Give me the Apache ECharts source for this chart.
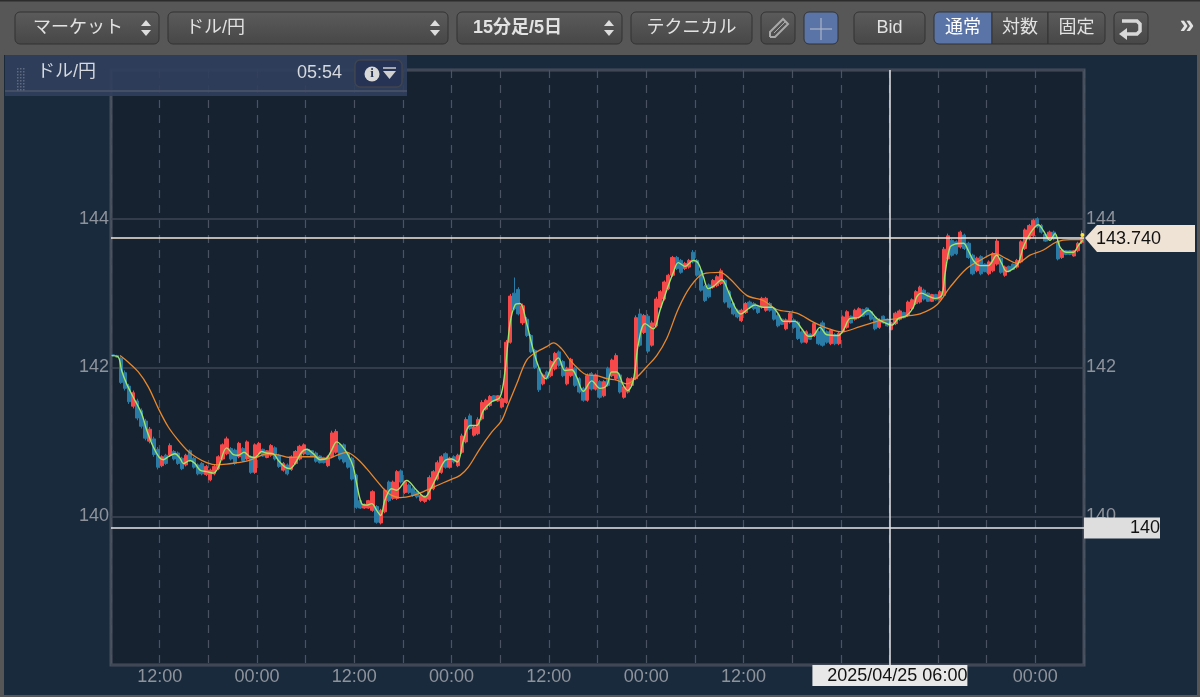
<!DOCTYPE html>
<html><head><meta charset="utf-8">
<style>html,body{margin:0;padding:0;background:#1a2a3d}#c{width:1200px;height:697px}</style>
<script src="https://cdn.jsdelivr.net/npm/echarts@6/dist/echarts.min.js"></script>
</head><body><div id="c"></div>
<script>
const highs=[142.17,142.17,142.14,141.96,141.78,141.69,141.58,141.45,141.31,141.20,
141.07,140.93,140.82,140.84,140.98,140.89,140.87,140.80,140.84,140.90,
140.80,140.71,140.73,140.69,140.64,140.69,140.82,140.98,141.07,140.93,
140.91,141.00,140.93,141.02,140.82,140.98,141.00,140.91,140.89,140.97,
140.94,140.84,140.73,140.71,140.82,140.89,140.96,140.98,140.91,140.89,
140.87,140.82,140.80,140.82,141.15,141.17,140.98,140.98,140.87,140.80,
140.57,140.22,140.17,140.22,140.35,140.15,140.10,140.37,140.48,140.48,
140.62,140.63,140.48,140.44,140.39,140.35,140.30,140.28,140.55,140.62,
140.75,140.82,140.86,140.80,140.82,140.84,141.11,141.33,141.38,141.22,
141.33,141.56,141.58,141.63,141.63,141.63,141.60,142.37,142.99,143.21,
143.08,142.86,142.68,142.45,142.25,142.01,141.92,141.96,142.10,142.21,
142.23,142.10,142.01,142.13,142.01,141.87,141.74,141.92,141.94,141.92,
141.83,141.83,142.01,142.12,142.19,141.92,141.76,141.87,141.87,142.70,
142.79,142.72,142.72,142.63,142.95,143.04,143.17,143.26,143.50,143.50,
143.46,143.42,143.46,143.58,143.46,143.33,143.11,143.13,143.19,143.24,
143.33,143.19,143.04,142.88,142.79,142.79,142.88,142.90,142.88,142.84,
142.95,142.95,142.88,142.81,142.72,142.66,142.66,142.75,142.66,142.63,
142.50,142.50,142.46,142.61,142.50,142.63,142.50,142.52,142.46,142.48,
142.70,142.77,142.70,142.79,142.81,142.79,142.81,142.77,142.70,142.66,
142.70,142.66,142.61,142.75,142.78,142.75,142.90,142.93,143.04,143.10,
143.06,143.01,142.99,142.99,143.04,143.62,143.80,143.73,143.71,143.84,
143.80,143.69,143.53,143.49,143.51,143.40,143.44,143.55,143.73,143.49,
143.37,143.37,143.40,143.46,143.71,143.87,143.93,144.00,144.02,143.93,
143.80,143.84,143.84,143.71,143.60,143.58,143.58,143.58,143.69,143.84];
const lows=[142.15,142.13,141.78,141.69,141.51,141.45,141.29,141.18,141.02,140.98,
140.80,140.63,140.66,140.69,140.80,140.75,140.69,140.62,140.67,140.73,
140.64,140.55,140.55,140.54,140.47,140.55,140.62,140.75,140.82,140.75,
140.69,140.78,140.73,140.75,140.57,140.57,140.82,140.80,140.78,140.80,
140.75,140.65,140.60,140.55,140.61,140.69,140.75,140.82,140.82,140.80,
140.72,140.71,140.71,140.66,140.78,140.84,140.75,140.71,140.64,140.48,
140.10,140.10,140.10,140.10,140.06,139.90,139.89,140.04,140.19,140.22,
140.22,140.44,140.30,140.30,140.26,140.24,140.19,140.18,140.21,140.35,
140.48,140.57,140.64,140.64,140.71,140.66,140.84,140.98,141.16,141.07,
141.09,141.29,141.42,141.47,141.54,141.54,141.45,141.51,142.32,142.77,
142.70,142.57,142.41,142.19,141.98,141.67,141.76,141.83,141.87,141.96,
142.01,141.87,141.76,141.87,141.74,141.65,141.54,141.54,141.69,141.69,
141.58,141.60,141.74,141.87,141.83,141.65,141.58,141.65,141.74,141.83,
142.28,142.45,142.19,142.28,142.54,142.79,142.90,143.04,143.22,143.31,
143.26,143.31,143.33,143.40,143.22,143.02,142.88,142.93,143.06,143.08,
143.11,142.86,142.79,142.70,142.66,142.61,142.72,142.79,142.77,142.72,
142.79,142.75,142.75,142.63,142.54,142.57,142.50,142.59,142.52,142.37,
142.32,142.32,142.37,142.41,142.30,142.28,142.32,142.30,142.30,142.30,
142.46,142.52,142.59,142.63,142.66,142.68,142.70,142.63,142.50,142.52,
142.59,142.55,142.50,142.57,142.63,142.66,142.68,142.77,142.84,142.86,
142.90,142.88,142.88,142.90,142.90,142.95,143.44,143.49,143.51,143.60,
143.58,143.46,143.24,143.28,143.24,143.28,143.24,143.28,143.37,143.26,
143.22,143.28,143.31,143.33,143.40,143.58,143.71,143.75,143.87,143.80,
143.69,143.73,143.71,143.44,143.46,143.51,143.51,143.49,143.55,143.66];
const opens=[142.17,142.16,142.12,141.93,141.75,141.48,141.55,141.42,141.28,141.01,
141.04,140.90,140.68,140.82,140.82,140.87,140.85,140.78,140.69,140.88,
140.78,140.69,140.71,140.56,140.49,140.57,140.64,140.77,140.84,140.91,
140.89,140.80,140.91,140.77,140.80,140.59,140.84,140.90,140.79,140.82,
140.92,140.82,140.62,140.69,140.63,140.71,140.77,140.84,140.90,140.88,
140.85,140.81,140.79,140.68,140.80,140.86,140.96,140.96,140.85,140.78,
140.55,140.21,140.11,140.11,140.08,140.13,139.91,140.06,140.46,140.24,
140.24,140.61,140.32,140.42,140.37,140.33,140.21,140.20,140.23,140.37,
140.50,140.59,140.84,140.66,140.80,140.68,140.86,141.00,141.35,141.09,
141.11,141.31,141.44,141.49,141.62,141.55,141.47,141.53,142.34,143.00,
143.05,142.60,142.65,142.43,142.23,141.99,141.78,141.94,141.89,141.98,
142.21,142.08,141.78,141.89,141.99,141.85,141.72,141.56,141.92,141.71,
141.81,141.62,141.99,141.89,141.85,141.90,141.60,141.67,141.76,141.85,
142.72,142.47,142.69,142.30,142.56,142.81,142.92,143.06,143.24,143.48,
143.44,143.33,143.35,143.55,143.44,143.30,143.09,143.11,143.08,143.10,
143.13,143.17,143.02,142.86,142.77,142.63,142.74,142.88,142.86,142.82,
142.81,142.77,142.86,142.79,142.70,142.65,142.52,142.61,142.64,142.61,
142.48,142.34,142.45,142.43,142.48,142.60,142.48,142.32,142.44,142.32,
142.48,142.54,142.69,142.65,142.68,142.78,142.80,142.75,142.68,142.54,
142.69,142.65,142.51,142.59,142.65,142.74,142.70,142.79,142.86,142.88,
143.04,143.00,142.89,142.98,142.92,142.97,143.46,143.71,143.69,143.62,
143.78,143.67,143.51,143.30,143.49,143.39,143.26,143.30,143.39,143.47,
143.24,143.36,143.39,143.35,143.42,143.60,143.73,143.77,144.00,143.91,
143.79,143.75,143.82,143.69,143.48,143.57,143.57,143.50,143.57,143.68];
const closes=[142.16,142.14,141.80,141.72,141.54,141.66,141.32,141.21,141.05,141.17,
140.83,140.66,140.80,140.71,140.95,140.77,140.71,140.64,140.82,140.75,
140.66,140.57,140.57,140.67,140.62,140.67,140.80,140.96,141.04,140.77,
140.71,140.98,140.75,141.00,140.59,140.96,140.98,140.81,140.88,140.95,
140.77,140.67,140.71,140.57,140.80,140.87,140.94,140.96,140.83,140.81,
140.74,140.72,140.72,140.80,141.12,141.14,140.77,140.73,140.66,140.50,
140.12,140.11,140.16,140.21,140.33,139.92,140.08,140.35,140.21,140.46,
140.60,140.46,140.46,140.32,140.28,140.26,140.28,140.26,140.52,140.60,
140.72,140.80,140.66,140.78,140.73,140.82,141.08,141.30,141.18,141.20,
141.30,141.53,141.56,141.61,141.55,141.62,141.58,142.34,142.96,142.79,
142.72,142.83,142.43,142.21,142.00,141.70,141.90,141.85,142.08,142.19,
142.03,141.89,141.99,142.11,141.76,141.67,141.56,141.89,141.71,141.90,
141.60,141.81,141.76,142.10,142.16,141.67,141.74,141.85,141.85,142.67,
142.30,142.70,142.22,142.60,142.92,143.02,143.15,143.24,143.48,143.33,
143.28,143.40,143.44,143.42,143.24,143.04,142.90,142.95,143.17,143.22,
143.30,142.88,142.81,142.72,142.68,142.77,142.86,142.81,142.79,142.74,
142.93,142.93,142.77,142.65,142.56,142.58,142.64,142.73,142.54,142.39,
142.34,142.48,142.38,142.59,142.32,142.30,142.34,142.50,142.32,142.46,
142.68,142.75,142.60,142.77,142.79,142.69,142.71,142.65,142.52,142.64,
142.60,142.56,142.60,142.73,142.76,142.67,142.88,142.91,143.02,143.08,
142.92,142.89,142.98,142.91,143.02,143.59,143.77,143.51,143.53,143.82,
143.60,143.48,143.26,143.47,143.26,143.29,143.42,143.53,143.70,143.28,
143.35,143.29,143.32,143.44,143.69,143.85,143.91,143.98,143.89,143.82,
143.70,143.82,143.73,143.46,143.58,143.52,143.52,143.57,143.67,143.74];

const fastHours=[0.08,0.90,1.31,1.93,2.75,3.78,4.40,5.22,5.96,6.45,7.07,7.89,8.51,8.92,9.74,10.36,10.98,11.80,12.62,13.24,14.27,15.09,15.70,16.40,17.14,17.76,18.58,19.20,20.02,20.64,21.46,22.08,22.69,23.51,24.13,24.95,25.78,26.60,27.21,27.83,28.45,29.27,29.89,30.30,30.91,31.53,32.15,32.76,33.26,33.79,34.61,35.23,36.47,37.70,38.73,39.35,40.17,41.20,42.02,42.72,43.46,44.28,45.10,45.92,46.95,47.98,48.60,49.21,49.83,50.45,51.27,52.09,52.91,53.61,54.35,55.17,55.99,56.82,57.44,58.26,59.29,60.31,61.14,61.75,62.37,63.19,63.72,64.42,65.04,65.86,66.89,67.71,68.54,69.36,69.97,70.80,71.82,72.44,73.06,73.67,74.29,75.32,76.14,76.96,77.66,78.61,79.43,80.46,81.49,82.31,82.92,84.36,85.19,86.01,86.62,87.45,88.27,89.71,90.32,91.15,92.17,93.41,94.43,95.26,96.29,97.11,98.14,98.96,99.37,99.98,100.80,101.63,102.45,102.86,103.48,104.09,105.12,105.74,106.35,107.18,108.20,109.23,109.85,110.47,111.29,111.90,112.52,113.34,114.37,114.99,115.81,116.43,117.04,117.87,118.69,119.30,119.84];
const fastMA=[142.16,142.14,141.96,141.78,141.60,141.38,141.16,140.93,140.79,140.76,140.80,140.84,140.78,140.71,140.75,140.71,140.62,140.60,140.58,140.66,140.92,140.83,140.82,140.86,140.80,140.79,140.87,140.85,140.84,140.75,140.66,140.64,140.71,140.86,140.90,140.84,140.76,140.78,140.89,141.00,140.95,140.82,140.66,140.44,140.17,140.15,140.17,140.08,140.01,140.22,140.37,140.35,140.48,140.35,140.26,140.35,140.53,140.75,140.77,140.73,141.02,141.22,141.22,141.42,141.54,141.60,141.96,142.59,142.84,142.86,142.59,142.23,141.96,141.85,142.01,142.13,141.96,141.97,141.87,141.68,141.82,141.72,141.76,141.94,141.94,141.76,141.69,141.83,142.32,142.59,142.52,142.77,143.04,143.28,143.41,143.36,143.44,143.40,143.22,143.06,143.09,143.18,143.02,142.81,142.72,142.79,142.84,142.81,142.81,142.72,142.62,142.62,142.52,142.42,142.43,142.54,142.44,142.43,142.50,142.66,142.67,142.77,142.66,142.61,142.57,142.66,142.70,142.81,142.95,143.00,142.96,142.93,142.97,143.26,143.62,143.66,143.67,143.57,143.44,143.37,143.37,143.51,143.40,143.29,143.33,143.40,143.62,143.80,143.92,143.84,143.71,143.80,143.62,143.55,143.55,143.64,143.71];
const slowHours=[1.11,2.14,3.37,4.60,5.84,7.07,8.30,9.54,10.56,11.80,13.03,14.27,15.50,16.73,17.96,19.20,20.43,22.08,23.72,24.95,26.60,27.83,29.06,30.30,31.53,32.76,33.79,34.61,35.64,37.29,38.94,40.37,41.61,43.05,44.07,45.51,46.95,48.19,49.01,50.04,51.27,52.50,53.74,54.56,55.59,56.61,57.85,58.67,59.90,61.14,62.37,63.60,64.84,66.07,67.30,68.54,69.97,71.41,73.06,75.11,76.35,78.40,80.46,82.10,84.57,86.62,88.27,90.12,92.38,94.85,97.31,98.13,99.78,101.83,103.48,105.53,107.18,109.03,110.47,111.70,113.34,114.99,116.63,118.28,119.84];
const slowMA=[142.16,142.07,141.94,141.74,141.45,141.20,141.02,140.87,140.79,140.72,140.69,140.70,140.72,140.74,140.79,140.84,140.83,140.79,140.80,140.80,140.77,140.82,140.86,140.78,140.64,140.48,140.35,140.28,140.25,140.28,140.35,140.42,140.48,140.55,140.66,140.91,141.13,141.29,141.51,141.78,142.10,142.21,142.28,142.33,142.25,142.10,141.96,141.90,141.89,141.85,141.83,141.78,141.87,142.01,142.16,142.39,142.79,143.08,143.26,143.28,143.19,142.97,142.90,142.78,142.73,142.61,142.53,142.48,142.55,142.63,142.66,142.69,142.72,142.84,143.08,143.33,143.44,143.53,143.46,143.40,143.51,143.58,143.69,143.72,143.72];

const priceTicks=[140,142,144];
const timeLabels={6:'12:00',18:'00:00',30:'12:00',42:'00:00',54:'12:00',66:'00:00',78:'12:00',90:'00:00',102:'12:00',114:'00:00'};
const lastPrice=143.74, crossPrice=139.85, crossHour=96;
const lastLabel='143.740', crossLabel='140', crossTime='2025/04/25 06:00';
const toolbar=[
 {t:'マーケット',x:15,w:144,align:'left',pad:18,spin:1,r:5},
 {t:'ドル/円',x:168,w:280,align:'left',pad:18,spin:1,r:5},
 {t:'15分足/5日',x:457,w:165,align:'left',pad:16,spin:1,bold:1,r:5},
 {t:'テクニカル',x:631,w:121,r:5},
 {t:'',x:761,w:34,r:5},
 {t:'',x:804,w:34,active:1,r:5},
 {t:'Bid',x:854,w:71,r:5},
 {t:'通常',x:934,w:58,active:1,r:[5,0,0,5]},
 {t:'対数',x:992,w:56,r:0},
 {t:'固定',x:1048,w:57,r:[0,5,5,0]},
 {t:'',x:1114,w:34,r:5}
];
const UI='"Liberation Sans","Noto Sans CJK JP",sans-serif';

const bars=opens.map((o,i)=>[0.25+0.5*i,o,closes[i],lows[i],highs[i]]);
const chart=echarts.init(document.getElementById('c'),null,{renderer:'canvas'});

function buildChrome(){
 const g=[];
 const grad=(a,b)=>({type:'linear',x:0,y:0,x2:0,y2:1,colorStops:[{offset:0,color:a},{offset:1,color:b}]});
 g.push({type:'rect',z:-1,silent:true,shape:{x:0,y:0,width:4,height:697},style:{fill:'#565656'}});
 g.push({type:'rect',z:-1,silent:true,shape:{x:1197,y:0,width:3,height:697},style:{fill:'#565656'}});
 g.push({type:'rect',z:-1,silent:true,shape:{x:0,y:695,width:1200,height:2},style:{fill:'#565656'}});
 g.push({type:'rect',z:50,silent:true,shape:{x:0,y:0,width:1200,height:55},style:{fill:'#575757'}});
 g.push({type:'rect',z:50,silent:true,shape:{x:0,y:0,width:1200,height:1.5},style:{fill:'#2c2c2c'}});
 toolbar.forEach(b=>{
  g.push({type:'rect',z:51,silent:true,shape:{x:b.x,y:12,width:b.w,height:32,r:b.r},
   style:{fill:b.active?'#5a74a8':grad('#5b5b5b','#474747'),stroke:'#333333',lineWidth:1}});
  if(b.t){g.push({type:'text',z:52,silent:true,
   style:{text:b.t,x:b.align==='left'?b.x+b.pad:b.x+b.w/2,y:28,align:b.align||'center',verticalAlign:'middle',
   fill:b.active?'#ffffff':'#e2e2e2',font:(b.bold?'bold ':'')+'18px '+UI}});}
  if(b.spin){const cx=b.x+b.w-13;
   g.push({type:'polygon',z:52,silent:true,shape:{points:[[cx-5,26],[cx+5,26],[cx,20]]},style:{fill:'#dddddd'}});
   g.push({type:'polygon',z:52,silent:true,shape:{points:[[cx-5,30],[cx+5,30],[cx,36]]},style:{fill:'#dddddd'}});}
 });
 g.push({type:'polyline',z:52,silent:true,shape:{points:[[770,37],[770,32],[783,19],[788,24],[775,37],[770,37]]},style:{stroke:'#a8a8a8',fill:'none',lineWidth:2}});
 g.push({type:'line',z:52,silent:true,shape:{x1:774,y1:33,x2:785,y2:22},style:{stroke:'#a8a8a8',lineWidth:1}});
 g.push({type:'line',z:52,silent:true,shape:{x1:810,y1:29,x2:832,y2:29},style:{stroke:'#aab4c8',lineWidth:1.2}});
 g.push({type:'line',z:52,silent:true,shape:{x1:821,y1:18,x2:821,y2:40},style:{stroke:'#aab4c8',lineWidth:1.2}});
 g.push({type:'polyline',z:52,silent:true,shape:{points:[[1122,21],[1137,21],[1140,24],[1140,31],[1137,34],[1126,34]]},style:{stroke:'#d8d8d8',fill:'none',lineWidth:3.5}});
 g.push({type:'polygon',z:52,silent:true,shape:{points:[[1119,34],[1127,28],[1127,40]]},style:{fill:'#d8d8d8'}});
 g.push({type:'text',z:52,silent:true,style:{text:'»',x:1187,y:26,align:'center',verticalAlign:'middle',fill:'#e2e2e2',font:'bold 26px '+UI}});

 g.push({type:'rect',z:40,silent:true,shape:{x:5,y:55,width:402,height:41},style:{fill:'rgba(47,62,92,0.93)'}});
 g.push({type:'line',z:41,silent:true,shape:{x1:5,y1:91,x2:407,y2:91},style:{stroke:'#4c5568',lineWidth:1.5}});
 for(let r=0;r<8;r++)for(let c=0;c<3;c++)g.push({type:'rect',z:41,silent:true,shape:{x:17+c*3,y:68+r*3,width:1.5,height:1.5},style:{fill:'#5f6a80'}});
 g.push({type:'text',z:42,silent:true,style:{text:'ドル/円',x:37,y:72,verticalAlign:'middle',fill:'#d6d9de',font:'18px '+UI}});
 g.push({type:'text',z:42,silent:true,style:{text:'05:54',x:342,y:73,align:'right',verticalAlign:'middle',fill:'#d6d9de',font:'18px '+UI}});
 g.push({type:'rect',z:42,silent:true,shape:{x:355,y:60,width:47,height:27,r:5},style:{fill:'#263355',stroke:'#40444e',lineWidth:1.5}});
 g.push({type:'circle',z:43,silent:true,shape:{cx:372,cy:74,r:7.5},style:{fill:'#d8d8d8'}});
 g.push({type:'text',z:44,silent:true,style:{text:'i',x:372,y:74,align:'center',verticalAlign:'middle',fill:'#263355',font:'bold 13px "Liberation Serif"'}});
 g.push({type:'line',z:43,silent:true,shape:{x1:383,y1:68,x2:396,y2:68},style:{stroke:'#d0d0d0',lineWidth:1.5}});
 g.push({type:'polygon',z:43,silent:true,shape:{points:[[383,71],[396,71],[389.5,79]]},style:{fill:'#d0d0d0'}});

 const pLast=chart.convertToPixel({gridIndex:0},[120,lastPrice]);
 const pCross=chart.convertToPixel({gridIndex:0},[crossHour,crossPrice]);
 const xR=pLast[0], yL=pLast[1], yC=pCross[1], xC=pCross[0];
 g.push({type:'polygon',z:30,silent:true,shape:{points:[[xR+1,yL],[xR+13,yL-13],[xR+111,yL-13],[xR+111,yL+14],[xR+13,yL+14]]},style:{fill:'#efe3d6'}});
 g.push({type:'text',z:31,silent:true,style:{text:lastLabel,x:xR+12,y:yL+1,verticalAlign:'middle',fill:'#111111',font:'18px '+UI}});
 g.push({type:'rect',z:30,silent:true,shape:{x:xR,y:yC-10,width:76,height:21},style:{fill:'#dedede'}});
 g.push({type:'text',z:31,silent:true,style:{text:crossLabel,x:xR+76,y:yC+1,align:'right',verticalAlign:'middle',fill:'#111111',font:'18px '+UI}});
 g.push({type:'rect',z:30,silent:true,shape:{x:xC-77,y:665,width:155,height:21},style:{fill:'#e8e8e8'}});
 g.push({type:'text',z:31,silent:true,style:{text:crossTime,x:xC+78,y:676,align:'right',verticalAlign:'middle',fill:'#111111',font:'18px '+UI}});
 return g;
}

chart.setOption({
 animation:false,
 backgroundColor:'#1a2a3d',
 grid:{left:111,right:116,top:70,bottom:32,show:true,backgroundColor:'#172231',borderColor:'#474f5c',borderWidth:3,containLabel:false},
 xAxis:{type:'value',min:0,max:120,interval:6,
  axisLine:{show:false},axisTick:{show:false},
  splitLine:{show:true,lineStyle:{color:'#4a5361',type:[8,7],width:1.2}},
  axisLabel:{color:'#8e939b',fontSize:18,fontFamily:UI,margin:3,showMinLabel:false,showMaxLabel:false,
   formatter:v=>timeLabels[v]||''}},
 yAxis:[
  {type:'value',min:138,max:146,interval:2,position:'left',axisLine:{show:false},axisTick:{show:false},
   splitLine:{show:true,lineStyle:{color:'#3e4654',width:1.5}},
   axisLabel:{color:'#8e939b',fontSize:18,fontFamily:UI,margin:2,formatter:v=>priceTicks.includes(v)?String(v):''}},
  {type:'value',min:138,max:146,interval:2,position:'right',axisLine:{show:false},axisTick:{show:false},
   splitLine:{show:false},
   axisLabel:{color:'#8e939b',fontSize:18,fontFamily:UI,margin:2,formatter:v=>priceTicks.includes(v)?String(v):''}}
 ],
 series:[
  {type:'candlestick',data:bars,encode:{x:0,y:[1,2,3,4]},barWidth:3.6,clip:true,silent:true,
   itemStyle:{color:'#f5484a',color0:'#2a7ba5',borderColor:'#f5484a',borderColor0:'#2a7ba5',borderWidth:1},
   markLine:{silent:true,symbol:'none',animation:false,label:{show:false},emphasis:{disabled:true},
    data:[{yAxis:lastPrice,lineStyle:{color:'#f3ead9',width:1.6,type:'solid'}},
          {yAxis:crossPrice,lineStyle:{color:'#e6e6e6',width:1.5,type:'solid'}},
          {xAxis:crossHour,lineStyle:{color:'#e6e6e6',width:1.5,type:'solid'}}]},
   markPoint:{silent:true,animation:false,symbol:'circle',symbolSize:4,label:{show:false},itemStyle:{color:'#ffe83a'},data:[{coord:[119.8,143.78]}]}},
  {type:'line',data:slowHours.map((h,i)=>[h,slowMA[i]]),showSymbol:false,smooth:0.35,silent:true,z:3,lineStyle:{color:'#e8882c',width:1.3}},
  {type:'line',data:fastHours.map((h,i)=>[h,fastMA[i]]),showSymbol:false,smooth:0.35,silent:true,z:4,lineStyle:{color:'#9fe56a',width:1.4}}
 ]
});
chart.setOption({graphic:{elements:buildChrome()}});
</script></body></html>
